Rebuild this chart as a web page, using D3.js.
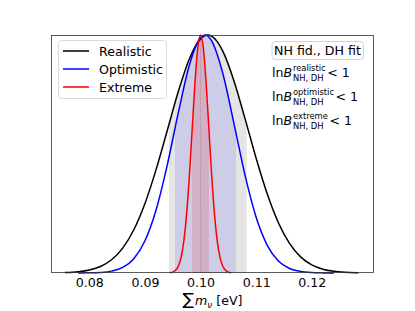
<!DOCTYPE html>
<html>
<head>
<meta charset="utf-8">
<script src="https://cdn.jsdelivr.net/npm/d3@7"></script>
<style>
  body { margin: 0; background: #fff; }
  text { font-family: 'DejaVu Sans', sans-serif; }
</style>
</head>
<body>
<div id="chart"></div>
<script>
const W = 415, H = 311;
const margin = {left: 51, top: 35, right: 41, bottom: 38};

// posterior curves (peak normalised to 1)
const realisticX = [0.0756, 0.078, 0.080, 0.082, 0.084, 0.086, 0.088, 0.090, 0.092, 0.094, 0.096, 0.098, 0.100, 0.1013,
  0.102, 0.104, 0.106, 0.108, 0.110, 0.112, 0.114, 0.116, 0.118, 0.120, 0.122, 0.124, 0.126, 0.128, 0.1284];
const realisticY = [0.0017, 0.0053, 0.0126, 0.0275, 0.0557, 0.1046, 0.1816, 0.2917, 0.4343, 0.598, 0.7627, 0.9003, 0.9838, 1.0,
  0.9953, 0.9321, 0.808, 0.6486, 0.4819, 0.3315, 0.2111, 0.1244, 0.0679, 0.0343, 0.016, 0.0069, 0.0028, 0.001, 0.0008];

const optimisticX = [0.078, 0.080, 0.082, 0.084, 0.086, 0.088, 0.090, 0.092, 0.094, 0.096, 0.098, 0.100, 0.1008,
  0.102, 0.104, 0.106, 0.108, 0.110, 0.112, 0.114, 0.116, 0.118, 0.120, 0.122, 0.124];
const optimisticY = [0.0001, 0.0006, 0.0023, 0.0079, 0.0234, 0.0603, 0.1353, 0.265, 0.4525, 0.6737, 0.8742, 0.9891, 1.0,
  0.9756, 0.839, 0.629, 0.4111, 0.2342, 0.1164, 0.0504, 0.019, 0.0063, 0.0018, 0.0005, 0.0001];

const extremeX = [0.0945, 0.0950, 0.0955, 0.0960, 0.0965, 0.0970, 0.0975, 0.0980, 0.0985, 0.0990, 0.0995, 0.1000,
  0.1005, 0.1010, 0.1015, 0.1020, 0.1025, 0.1030, 0.1035, 0.1040, 0.1045, 0.1050, 0.1055];
const extremeY = [0.0012, 0.0039, 0.0111, 0.0286, 0.0657, 0.1353, 0.2494, 0.4111, 0.6065, 0.8007, 0.946, 1.0,
  0.946, 0.8007, 0.6065, 0.4111, 0.2494, 0.1353, 0.0657, 0.0286, 0.0111, 0.0039, 0.0012];

// 68% intervals (shaded)
const bandLo = [0.0943, 0.0954, 0.0985];
const bandHi = [0.1083, 0.1064, 0.1015];

const seriesNames = ['Realistic', 'Optimistic', 'Extreme'];
const seriesColors = ['#000000', '#0000ff', '#ff0000'];
const bandOpacity = [0.1, 0.1, 0.15];
const bayesLabels = ['realistic', 'optimistic', 'extreme'];
const fiducial = 0.10;
const xTicks = [0.08, 0.09, 0.10, 0.11, 0.12];

const series = [
  {x: realisticX, y: realisticY},
  {x: optimisticX, y: optimisticY},
  {x: extremeX, y: extremeY}
];

const svg = d3.select('#chart').append('svg')
  .attr('width', W)
  .attr('height', H);

const x = d3.scaleLinear()
  .domain([0.0731, 0.1312])
  .range([margin.left, W - margin.right]);

const y = d3.scaleLinear()
  .domain([0, 1])
  .range([H - margin.bottom, margin.top]);

const line = d3.line()
  .x(d => x(d[0]))
  .y(d => y(d[1]))
  .curve(d3.curveMonotoneX);

const area = d3.area()
  .x(d => x(d[0]))
  .y0(y(0))
  .y1(d => y(d[1]))
  .curve(d3.curveMonotoneX);

const defs = svg.append('defs');

// shaded 68% bands under each curve
series.forEach((s, i) => {
  let pts = s.x.map((v, j) => [v, s.y[j]]);
  defs.append('clipPath').attr('id', 'band' + i)
    .append('rect')
    .attr('x', x(bandLo[i]))
    .attr('y', margin.top)
    .attr('width', x(bandHi[i]) - x(bandLo[i]))
    .attr('height', y(0) - margin.top);
  svg.append('path')
    .datum(pts)
    .attr('d', area)
    .attr('clip-path', 'url(#band' + i + ')')
    .attr('fill', seriesColors[i])
    .attr('fill-opacity', bandOpacity[i]);
});

// fiducial value
svg.append('line')
  .attr('x1', x(fiducial)).attr('x2', x(fiducial))
  .attr('y1', y(0)).attr('y2', y(1))
  .attr('stroke', '#888')
  .attr('stroke-width', 0.8)
  .attr('stroke-dasharray', '1,1.6');

series.forEach((s, i) => {
  let pts = s.x.map((v, j) => [v, s.y[j]]);
  svg.append('path')
    .datum(pts)
    .attr('d', line)
    .attr('fill', 'none')
    .attr('stroke', seriesColors[i])
    .attr('stroke-width', 1.5);
});

// frame
svg.append('rect')
  .attr('x', margin.left + 0.5)
  .attr('y', margin.top + 0.5)
  .attr('width', W - margin.left - margin.right - 1)
  .attr('height', H - margin.top - margin.bottom - 1)
  .attr('fill', 'none')
  .attr('stroke', '#333')
  .attr('stroke-width', 0.8);

// x axis labels
let xAxis = svg.append('g')
  .attr('transform', 'translate(0,' + y(0) + ')')
  .call(d3.axisBottom(x).tickValues(xTicks).tickFormat(d3.format('.2f')).tickSize(0).tickPadding(5.5));
xAxis.select('.domain').remove();
xAxis.selectAll('text')
  .attr('font-family', "'DejaVu Sans', sans-serif")
  .attr('font-size', 12.6)
  .attr('fill', '#000');

let xl = svg.append('text')
  .attr('x', (margin.left + W - margin.right) / 2)
  .attr('y', 305)
  .attr('text-anchor', 'middle')
  .attr('font-size', 12.6);
xl.append('tspan').attr('font-size', 17).text('\u2211');
xl.append('tspan').attr('font-style', 'italic').attr('dx', 1).text('m');
xl.append('tspan').attr('font-style', 'italic').attr('font-size', 8.8).attr('dy', 2.5).text('\u03bd');
xl.append('tspan').attr('dy', -2.5).text(' [eV]');

// legend
let lg = svg.append('g');
lg.append('rect')
  .attr('x', 58.5).attr('y', 40.5)
  .attr('width', 108).attr('height', 58)
  .attr('rx', 3)
  .attr('fill', '#fff').attr('fill-opacity', 0.8)
  .attr('stroke', '#d0d0d0').attr('stroke-width', 0.8);
seriesNames.forEach((n, i) => {
  let ly = 51 + i * 18;
  lg.append('line')
    .attr('x1', 63).attr('x2', 89)
    .attr('y1', ly).attr('y2', ly)
    .attr('stroke', seriesColors[i])
    .attr('stroke-width', 1.5);
  lg.append('text')
    .attr('x', 99).attr('y', ly + 4.5)
    .attr('font-size', 12.6)
    .text(n);
});

// annotation box
let annBox = svg.append('rect');
let ann = svg.append('text')
  .attr('x', 274).attr('y', 55)
  .attr('font-size', 12.6)
  .text('NH fid., DH fit');
let bb = ann.node().getBBox();
annBox
  .attr('x', bb.x - 2).attr('y', 41.5)
  .attr('width', bb.width + 4.5).attr('height', 18)
  .attr('rx', 3)
  .attr('fill', '#fff')
  .attr('stroke', '#c8c8c8').attr('stroke-width', 0.8);

function bayesRow(by, sup) {
  let g = svg.append('g');
  let t = g.append('text').attr('x', 272).attr('y', by).attr('font-size', 12.6);
  t.append('tspan').text('ln');
  t.append('tspan').attr('font-style', 'italic').text('B');
  let w = t.node().getComputedTextLength();
  let sx = 272 + w + 0.8;
  let sp = g.append('text').attr('x', sx).attr('y', by - 6.2).attr('font-size', 8.4).text(sup);
  let sb = g.append('text').attr('x', sx).attr('y', by + 4.2).attr('font-size', 8.4).text('NH, DH');
  let w2 = Math.max(sp.node().getComputedTextLength(), sb.node().getComputedTextLength());
  g.append('text').attr('x', sx + w2 + 1.5).attr('y', by).attr('font-size', 12.6).text('< 1');
}
bayesLabels.forEach((b, i) => bayesRow(77 + i * 24, b));
</script>
</body>
</html>
